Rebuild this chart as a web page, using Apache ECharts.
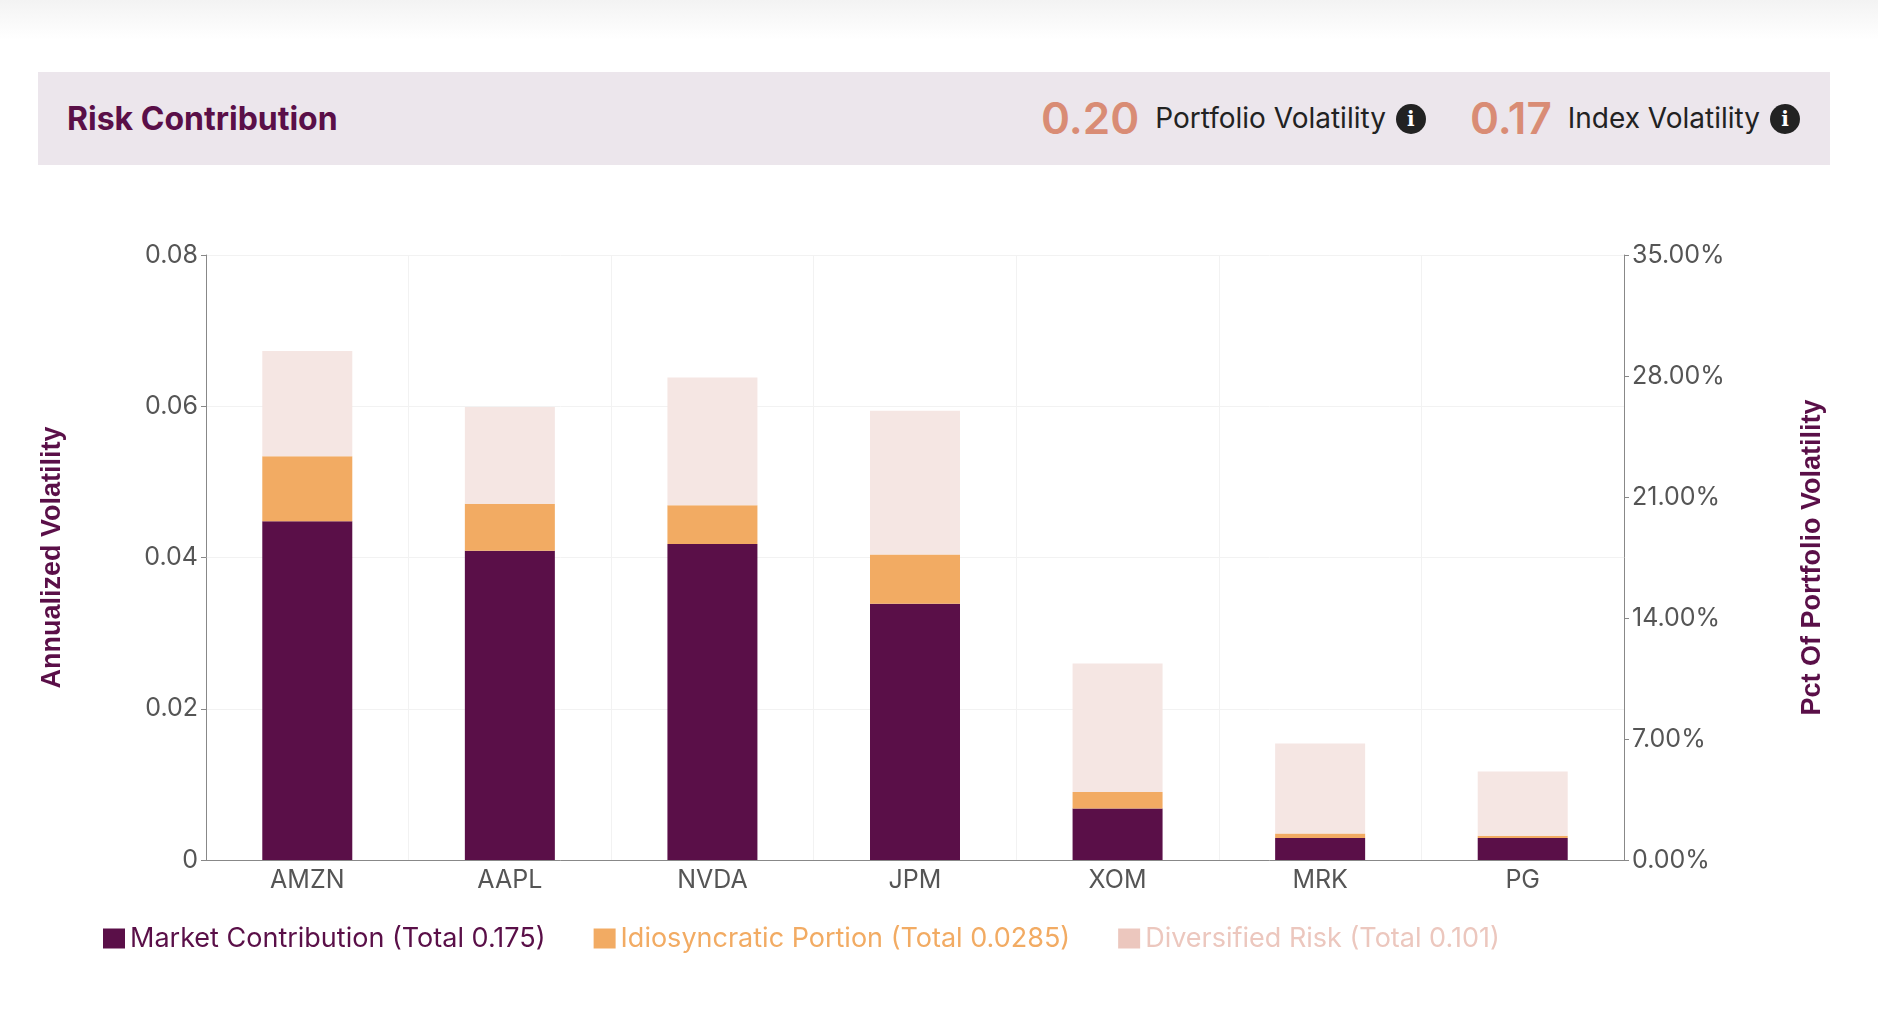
<!DOCTYPE html>
<html><head><meta charset="utf-8">
<script src="https://cdn.jsdelivr.net/npm/echarts@6/dist/echarts.min.js"></script>
<style>
body{margin:0;width:1878px;height:1018px;background:#fff;font-family:Inter,'Noto Sans',sans-serif;overflow:hidden}
#top{position:absolute;left:0;top:0;width:1878px;height:40px;background:linear-gradient(#f3f3f3,#fff)}
#hdr{position:absolute;left:38px;top:72px;width:1792px;height:93px;background:#ece6ec}
#title{position:absolute;left:29px;top:0;line-height:93px;font-size:32px;font-weight:700;color:#5a0f48}
#stats{position:absolute;right:30px;top:0;line-height:93px;font-size:28px;color:#222;display:flex;align-items:center}
.num{font-size:44px;font-weight:600;color:#d98c75;margin-right:16px}
.ic{display:inline-block;width:30px;height:30px;border-radius:50%;background:#222;color:#fff;font-size:20px;font-weight:700;line-height:30px;text-align:center;margin-left:10px;font-family:'DejaVu Serif',serif}
#c{position:absolute;left:0;top:0;width:1878px;height:1018px}
</style></head><body>
<div id="top"></div>
<div id="hdr"><div id="title">Risk Contribution</div>
<div id="stats"><span class="num">0.20</span>Portfolio Volatility<span class="ic">i</span><span style="width:44px"></span><span class="num">0.17</span>Index Volatility<span class="ic">i</span></div></div>
<div id="c"></div>
<script>
const categories=['AMZN','AAPL','NVDA','JPM','XOM','MRK','PG'];
const market=[0.0448,0.0409,0.0418,0.0339,0.0068,0.0029,0.0029];
const idio=[0.0086,0.0062,0.0051,0.0065,0.0022,0.0006,0.0003];
const diversified=[0.0139,0.0128,0.0169,0.0190,0.0170,0.0119,0.0085];
const names=['Market Contribution (Total 0.175)','Idiosyncratic Portion (Total 0.0285)','Diversified Risk (Total 0.101)'];
const C=['#5a0f48','#f2ab63','#f5e6e3'];
const legC=['#5a0f48','#f2ab63','#ecc7be'];
const ch=echarts.init(document.getElementById('c'));
const lbl={color:'#555',fontSize:25,fontFamily:'Inter'};
ch.setOption({
 animation:false,
 grid:{left:206,right:254,top:255,bottom:158},
 legend:{left:98,top:920,itemWidth:22,itemHeight:20,itemGap:48,icon:'rect',
  textStyle:{fontSize:27,fontFamily:'Inter'},
  data:names.map((n,i)=>({name:n,itemStyle:{color:legC[i]},textStyle:{color:legC[i]}}))},
 xAxis:{type:'category',data:categories,axisLabel:lbl,axisTick:{alignWithLabel:true,lineStyle:{color:'#888'}},
  axisLine:{lineStyle:{color:'#888'}},splitLine:{show:true,lineStyle:{color:'#f2f2f2'}}},
 yAxis:[{type:'value',min:0,max:0.08,interval:0.02,axisLabel:{...lbl,formatter:v=>v===0?'0':v.toFixed(2)},
   axisLine:{show:true,lineStyle:{color:'#888'}},axisTick:{show:true},splitLine:{lineStyle:{color:'#f2f2f2'}},
   name:'Annualized Volatility',nameLocation:'middle',nameGap:140,nameRotate:90,
   nameTextStyle:{color:'#5a0f48',fontSize:27,fontWeight:'bold'}},
  {type:'value',min:0,max:35,interval:7,axisLabel:{...lbl,formatter:v=>v.toFixed(2)+'%'},
   axisLine:{show:true,lineStyle:{color:'#888'}},axisTick:{show:true},splitLine:{show:false},
   name:'Pct Of Portfolio Volatility',nameLocation:'middle',nameGap:175,nameRotate:90,
   nameTextStyle:{color:'#5a0f48',fontSize:27,fontWeight:'bold'}}],
 series:[market,idio,diversified].map((d,i)=>({name:names[i],type:'bar',stack:'s',data:d,barWidth:90,itemStyle:{color:C[i]}}))
});
</script></body></html>
